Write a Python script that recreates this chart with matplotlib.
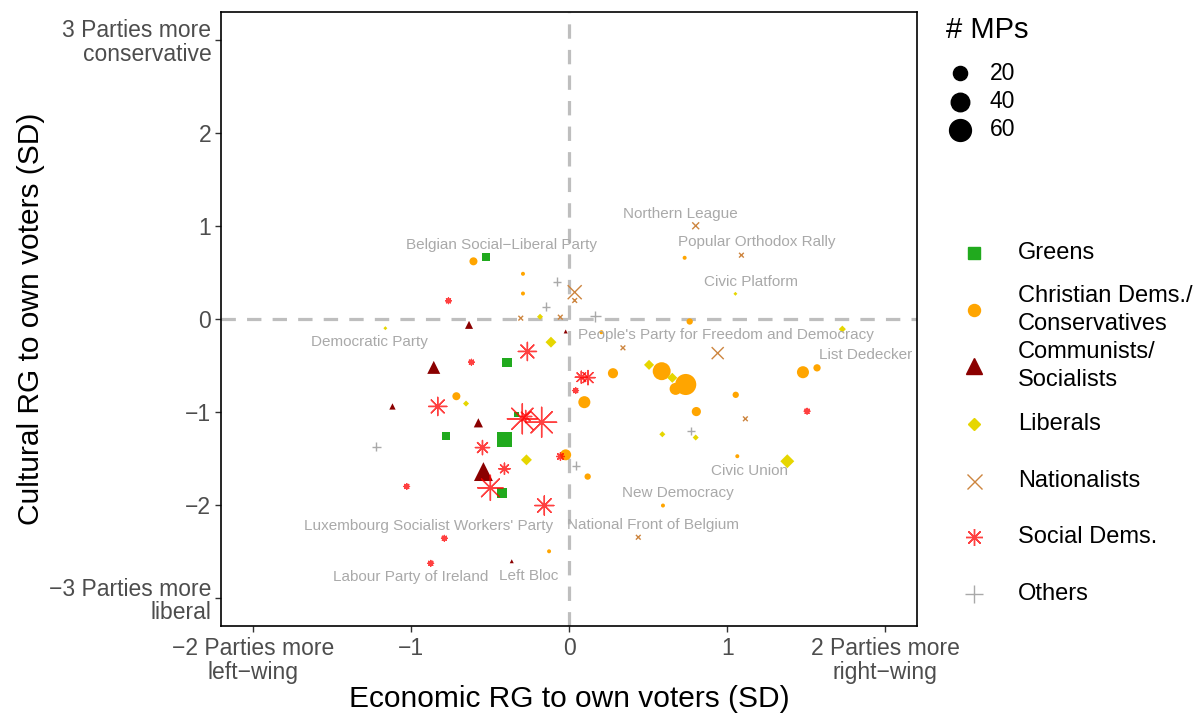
import numpy as np
import matplotlib
matplotlib.use("Agg")
import matplotlib.pyplot as plt
from matplotlib.lines import Line2D

plt.rcParams['font.family'] = ['Liberation Sans', 'DejaVu Sans']

# ---- data: (economic RG, cultural RG, number of MPs) per party family ----
greens_x = [-0.522, -0.392, -0.329, -0.779, -0.408, -0.425]
greens_y = [0.665, -0.471, -1.027, -1.26, -1.30, -1.866]
greens_mp = [8, 11, 2, 8, 41, 14]

cd_x = [-0.604, -0.291, -0.291, 0.763, 0.205, 0.586, 0.674, 0.738, 0.097, 0.278, 1.054,
        0.805, 0.731, 1.479, 1.568, 1.064, -0.021, 0.118, 0.594, -0.712, -0.126]
cd_y = [0.62, 0.486, 0.274, -0.027, -0.142, -0.561, -0.751, -0.704, -0.894, -0.583, -0.815,
        -0.995, 0.658, -0.572, -0.525, -1.475, -1.46, -1.694, -2.005, -0.83, -2.497]
cd_mp = [4, 1, 1, 2, 1, 37, 13, 55, 13, 8, 2,
         6, 1, 13, 3, 1, 10, 2, 1, 4, 1]

comm_x = [-0.632, -0.021, -0.855, -1.116, -0.573, -0.541, -0.362]
comm_y = [-0.063, -0.134, -0.52, -0.94, -1.116, -1.64, -2.604]
comm_mp = [4, 1, 16, 2, 6, 42, 1]

lib_x = [-1.161, -0.183, -0.114, -0.651, -0.269, 1.052, 1.728, 0.506, 0.653, 0.59, 0.801, 1.38]
lib_y = [-0.099, 0.024, -0.249, -0.909, -1.514, 0.271, -0.109, -0.493, -0.632, -1.239, -1.274, -1.529]
lib_mp = [1.5, 5, 26, 5, 26, 1.5, 8, 21, 21, 5, 5, 48]

nat_x = [0.036, 0.036, -0.305, -0.055, 0.341, 0.94, 0.801, 1.09, 1.115, 0.438]
nat_y = [0.288, 0.199, 0.009, 0.02, -0.31, -0.367, 1.002, 0.686, -1.073, -2.346]
nat_mp = [41, 2, 2, 2, 2, 28, 6, 2, 2, 2]

sd_x = [-0.762, -0.617, -0.263, -0.83, -0.295, -0.274, -0.173, -0.547, -0.054, -0.408,
        -1.026, -0.497, -0.156, 0.078, 0.12, 0.042, 1.505, -0.788, -0.874]
sd_y = [0.196, -0.464, -0.349, -0.94, -1.073, -1.048, -1.11, -1.382, -1.478, -1.61,
        -1.80, -1.815, -2.005, -0.626, -0.63, -0.769, -0.991, -2.357, -2.626]
sd_mp = [1, 1, 16, 16, 57, 5, 57, 8, 1.4, 4,
         1, 37, 18, 5, 8, 1, 1, 1, 1]

oth_x = [-0.076, -0.143, 0.167, -1.217, 0.047, 0.769, 2.215]
oth_y = [0.403, 0.134, 0.03, -1.371, -1.575, -1.202, -0.38]
oth_mp = [8, 8, 19, 8, 8, 8, 2]

families = ["Greens", "Christian Dems./\nConservatives", "Communists/\nSocialists",
            "Liberals", "Nationalists", "Social Dems.", "Others"]

labels = ["Northern League", "Belgian Social\u2212Liberal Party", "Popular Orthodox Rally",
          "Civic Platform", "Democratic Party", "People's Party for Freedom and Democracy",
          "List Dedecker", "Civic Union", "New Democracy", "National Front of Belgium",
          "Luxembourg Socialist Workers' Party", "Labour Party of Ireland", "Left Bloc"]
label_x = [0.706, -0.425, 1.186, 1.15, -1.26, 0.99, 1.876, 1.14, 0.69, 0.529, -0.886, -1.0, -0.256]
label_y = [1.134, 0.80, 0.823, 0.403, -0.242, -0.177, -0.39, -1.629, -1.866, -2.21, -2.22, -2.77, -2.76]

# ---- styling ----
# marker: (matplotlib marker, colour, width factor vs circle, filled, alpha)
styles = [
    ('s', '#21AA1E', 0.8, True, 1.0),
    ('o', '#FFA500', 1.0, True, 1.0),
    ('^', '#8B0000', 1.0, True, 1.0),
    ('D', '#E6D600', 0.7 / np.sqrt(2), True, 1.0),
    ('x', '#CD853F', 0.75, False, 1.0),
    ((8, 2, 0), '#FF0000', 1.4, False, 0.75),
    ('+', '#A9A9A9', 0.8, False, 1.0),
]
series = [(greens_x, greens_y, greens_mp), (cd_x, cd_y, cd_mp), (comm_x, comm_y, comm_mp),
          (lib_x, lib_y, lib_mp), (nat_x, nat_y, nat_mp), (sd_x, sd_y, sd_mp),
          (oth_x, oth_y, oth_mp)]


def diam_px(mp):
    mp = np.asarray(mp, dtype=float)
    return 4 + 20 * np.sqrt(np.clip(mp - 1, 0, None) / 74)


fig = plt.figure(figsize=(12, 7.15), dpi=100)
ax = fig.add_axes([221 / 1200, 1 - 626 / 715, (917 - 221) / 1200, (626 - 12) / 715])

ax.axhline(0, color='#BEBEBE', lw=2.3, dashes=(4.5, 3.5), zorder=1)
ax.axvline(0, color='#BEBEBE', lw=2.3, dashes=(4.5, 3.5), zorder=1)

for (xs, ys, mps), (mk, col, fac, filled, alpha) in zip(series, styles):
    ms = diam_px(mps) * fac * 0.72
    if filled:
        ax.scatter(xs, ys, s=ms ** 2, marker=mk, color=col, linewidths=0, alpha=alpha, zorder=3)
    else:
        ax.scatter(xs, ys, s=ms ** 2, marker=mk, color=col, linewidths=1.0, alpha=alpha, zorder=3)

for t, lx, ly in zip(labels, label_x, label_y):
    ax.text(lx, ly, t, ha='center', va='center', fontsize=11, color='#A9A9A9', zorder=4)

ax.set_xlim(-2.2, 2.2)
ax.set_ylim(-3.3, 3.3)
ax.set_xticks([-2, -1, 0, 1, 2])
ax.set_xticklabels(["\u22122 Parties more\nleft\u2212wing", "\u22121", "0", "1",
                    "2 Parties more\nright\u2212wing"], linespacing=1.04)
ax.set_yticks([-3, -2, -1, 0, 1, 2, 3])
ax.set_yticklabels(["\u22123 Parties more\nliberal", "\u22122", "\u22121", "0", "1", "2",
                    "3 Parties more\nconservative"], ha='right', linespacing=1.02)
ax.tick_params(length=4, width=1, color='#333333', labelcolor='#4D4D4D', labelsize=16.5)
ax.tick_params(axis='y', pad=3)
ax.tick_params(axis='x', pad=4)
for sp in ax.spines.values():
    sp.set_linewidth(1.2)
    sp.set_color('black')

ax.set_xlabel("Economic RG to own voters (SD)", fontsize=21.5)
ax.set_ylabel("Cultural RG to own voters (SD)", fontsize=21.5)
ax.xaxis.set_label_coords(0.5, (626 - 685) / 614)
ax.yaxis.set_label_coords((45 - 221) / 696, 0.5)

# ---- size legend ----
fig.text(946 / 1200, 1 - 30 / 715, "# MPs", fontsize=21, ha='left', va='center')
for mp, yp in zip([20, 40, 60], [73, 102, 130]):
    fig.add_artist(Line2D([960 / 1200], [1 - yp / 715], transform=fig.transFigure,
                          marker='o', ms=float(diam_px(mp)) * 0.72, color='black', lw=0))
    fig.text(990 / 1200, 1 - yp / 715, str(mp), fontsize=16.5, ha='left', va='center')

# ---- shape legend ----
key_px = [11.5, 12, 16, 12 / np.sqrt(2), 15, 17, 18]
for fam, (mk, col, fac, filled, alpha), kp, yp in zip(
        families, styles, key_px, [253, 310, 366, 424, 481, 537, 594]):
    fig.add_artist(Line2D([974 / 1200], [1 - yp / 715], transform=fig.transFigure,
                          marker=mk, ms=kp * 0.72, color=col, lw=0, mew=1.0, alpha=alpha))
    fig.text(1018 / 1200, 1 - yp / 715, fam, fontsize=17, ha='left', va='center',
             linespacing=1.36)

fig.savefig("out.png", dpi=100)
